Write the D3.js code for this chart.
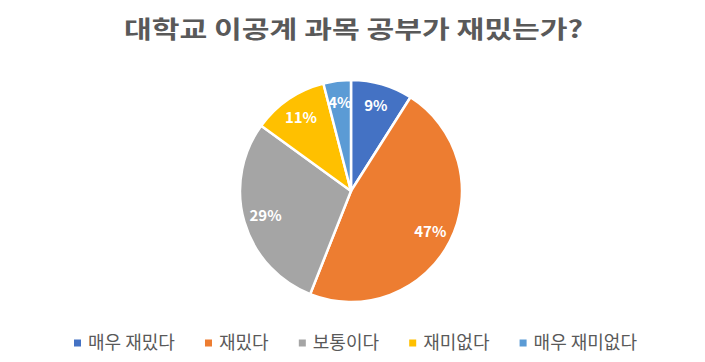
<!DOCTYPE html>
<html>
<head>
<meta charset="utf-8">
<script src="https://cdn.jsdelivr.net/npm/d3@7"></script>
<style>
  body { margin: 0; background: #fff; }
  text { font-family: "Noto Sans CJK KR", "Noto Sans", sans-serif; }
</style>
</head>
<body>
<div id="chart"></div>
<script>
const categories = ["매우 재밌다", "재밌다", "보통이다", "재미없다", "매우 재미없다"]
const values = [9, 47, 29, 11, 4]
const colors = ["#4472C4", "#ED7D31", "#A5A5A5", "#FFC000", "#5B9BD5"]
const title = "대학교 이공계 과목 공부가 재밌는가?"

const WIDTH = 705
const HEIGHT = 362
const CX = 351
const CY = 191
const R = 111

const svg = d3.select("#chart")
  .append("svg")
  .attr("width", WIDTH)
  .attr("height", HEIGHT)

// title
svg.append("text")
  .attr("x", 124)
  .attr("y", 38)
  .attr("font-size", 24)
  .attr("font-weight", "bold")
  .attr("fill", "#595959")
  .attr("textLength", 459)
  .attr("lengthAdjust", "spacingAndGlyphs")
  .text(title)

const color = d3.scaleOrdinal().domain(categories).range(colors)

const pie = d3.pie().sort(null).value(d => d.value)
const data = pie(categories.map((c, i) => ({ name: c, value: values[i] })))

const arc = d3.arc().innerRadius(0).outerRadius(R)
const labelArc = d3.arc().innerRadius(89).outerRadius(89)

const g = svg.append("g").attr("transform", `translate(${CX},${CY})`)

g.selectAll("path")
  .data(data)
  .enter()
  .append("path")
  .attr("d", arc)
  .attr("fill", d => color(d.data.name))
  .attr("stroke", "#fff")
  .attr("stroke-width", 2.5)
  .attr("stroke-linejoin", "round")

g.selectAll(".lbl")
  .data(data)
  .enter()
  .append("text")
  .attr("class", "lbl")
  .attr("transform", d => `translate(${labelArc.centroid(d)})`)
  .attr("text-anchor", "middle")
  .attr("dy", "0.35em")
  .attr("font-size", 15)
  .attr("font-weight", "bold")
  .attr("fill", "#fff")
  .text(d => d.data.value + "%")

// legend, spread between x=74 and x=637
const LEG_LEFT = 74
const LEG_RIGHT = 637
const legend = svg.append("g").attr("transform", "translate(0, 343)")
const items = legend.selectAll(".item")
  .data(categories)
  .enter()
  .append("g")
  .attr("class", "item")

items.append("rect")
  .attr("width", 7)
  .attr("height", 7)
  .attr("y", -3.5)
  .attr("fill", d => color(d))

items.append("text")
  .attr("x", 14)
  .attr("dy", "0.35em")
  .attr("font-size", 18)
  .attr("fill", "#595959")
  .text(d => d)

const widths = []
items.each(function () {
  widths.push(14 + d3.select(this).select("text").node().getComputedTextLength())
})
const gap = (LEG_RIGHT - LEG_LEFT - d3.sum(widths)) / (widths.length - 1)
let x = LEG_LEFT
items.each(function (d, i) {
  d3.select(this).attr("transform", `translate(${x},0)`)
  x += widths[i] + gap
})
</script>
</body>
</html>
